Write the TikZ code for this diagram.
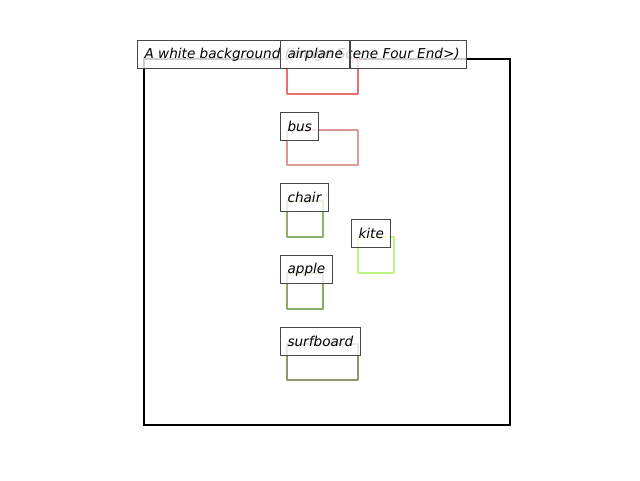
\documentclass[tikz,border=0pt]{standalone}
\usepackage{fontspec}
\setmainfont{DejaVu Sans}
\begin{document}
\begin{tikzpicture}[x=0.75pt,y=-0.75pt,
  lbl/.style={draw=black!72,line width=0.8pt,fill=white,fill opacity=0.8,text opacity=1,
    anchor=north west,inner xsep=5.25pt,inner ysep=0pt,minimum height=21pt,
    font=\fontsize{10.2}{12}\selectfont\itshape},
  objline/.style={line width=2.2pt,line join=round}]
\definecolor{cairplane}{RGB}{229,113,118}
\definecolor{cbus}{RGB}{218,155,150}
\definecolor{cchair}{RGB}{143,176,112}
\definecolor{ckite}{RGB}{190,245,130}
\definecolor{capple}{RGB}{138,168,104}
\definecolor{csurf}{RGB}{140,152,116}
\useasboundingbox (0,0) rectangle (640,480);
\draw[line width=1.8pt] (144,59) rectangle (510,425);
\draw[objline,cairplane] (287,59) rectangle (358,94);
\draw[objline,cbus] (287,130) rectangle (358,165);
\draw[objline,cchair] (287,201) rectangle (323,237);
\draw[objline,ckite] (358,237) rectangle (394,273);
\draw[objline,capple] (287,273) rectangle (323,309);
\draw[objline,csurf] (287,344) rectangle (358,380);
\node[lbl] (title) at (137,40) {A white background (image Scene Four End>)};
\node[lbl] (airplane) at (280,40) {airplane};
\node[lbl] (bus) at (280,112) {bus};
\node[lbl] (chair) at (280,183) {chair};
\node[lbl] (kite) at (351,219) {kite};
\node[lbl] (apple) at (280,255) {apple};
\node[lbl] (surfboard) at (280,327) {surfboard};
\end{tikzpicture}
\end{document}
